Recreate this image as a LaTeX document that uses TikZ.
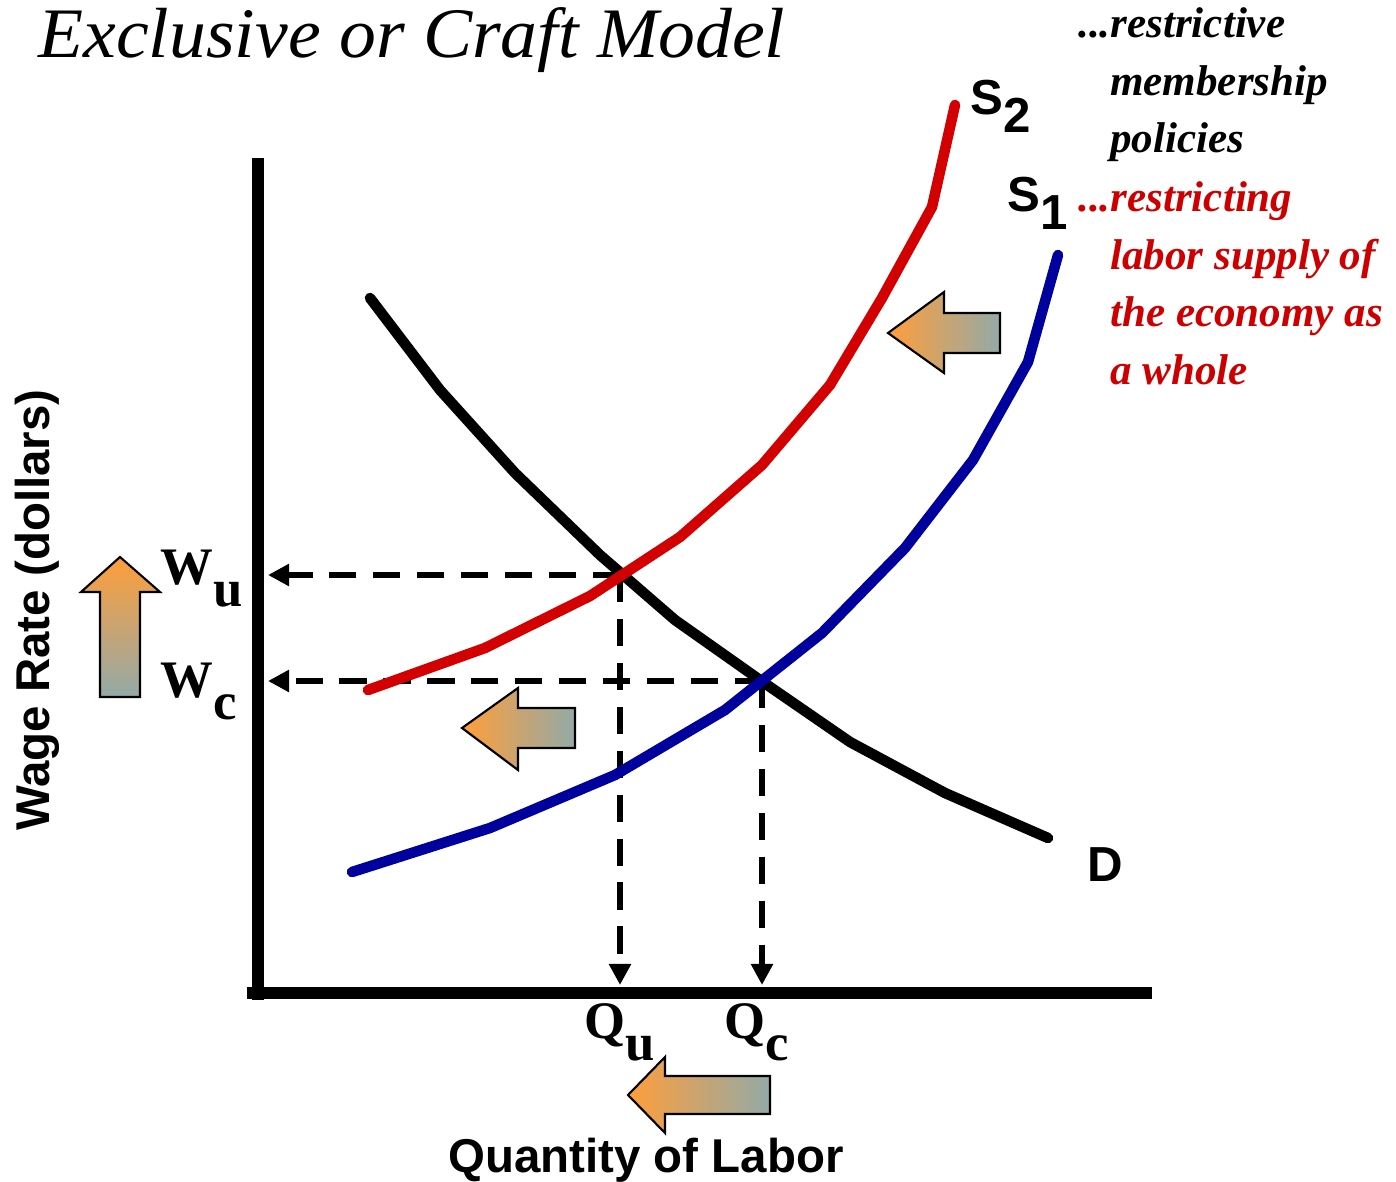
\documentclass[tikz,border=0pt]{standalone}
\usepackage{fontspec}
\setmainfont{Liberation Serif}
\setsansfont{Liberation Sans}
\usetikzlibrary{arrows.meta}
\definecolor{curvered}{HTML}{D20000}
\definecolor{curveblue}{HTML}{00009C}
\definecolor{arrorange}{HTML}{FF9E3A}
\definecolor{arrgray}{HTML}{93AAA8}
\definecolor{txtred}{HTML}{CC0000}
\tikzset{
  axisline/.style={line width=6.8pt},
  curve/.style={line width=6pt, line cap=round, line join=round},
  guide/.style={line width=3.1pt, dash pattern=on 15.5pt off 9.5pt, -{Triangle[length=12pt,width=12pt]}},
  blockarrow/.style={draw=black, line width=1.2pt, line join=miter},
  curvelabel/.style={font=\sffamily\bfseries\fontsize{28}{30}\selectfont, inner sep=0pt},
  axislabel/.style={font=\sffamily\bfseries\fontsize{27}{30}\selectfont, inner sep=0pt},
  varlabel/.style={font=\bfseries\fontsize{30}{32}\selectfont, inner sep=0pt, anchor=base west},
  note/.style={font=\bfseries\itshape\fontsize{24.5}{26}\selectfont, inner sep=0pt, anchor=base west},
}
\begin{document}
\begin{tikzpicture}[x=0.02cm,y=-0.02cm]
\useasboundingbox (0,0) rectangle (1396,1182);
% title
\node[inner sep=0pt, anchor=base west] (title) at (38,58) {\resizebox{14.94cm}{1.0cm}{\itshape Exclusive or Craft Model}};
% notes
\node[note] (n1) at (1078,38) {...restrictive};
\node[note] (n2) at (1110,96) {membership};
\node[note] (n3) at (1110,153) {policies};
\node[note, text=txtred] (n4) at (1078,212) {...restricting};
\node[note, text=txtred] (n5) at (1110,270) {labor supply of};
\node[note, text=txtred] (n6) at (1110,327) {the economy as};
\node[note, text=txtred] (n7) at (1110,384) {a whole};
% axes
\coordinate (origin) at (258,993);
\draw[axisline] (258,158) -- (258,1000);
\draw[axisline] (247,993) -- (1152,993);
% equilibrium points
\coordinate (eu) at (620,575);
\coordinate (ec) at (762,681);
\coordinate (wuaxis) at (268,575);
\coordinate (wcaxis) at (268,681);
\coordinate (quaxis) at (620,985);
\coordinate (qcaxis) at (762,985);
\draw[guide] (eu) -- (wuaxis);
\draw[guide] (ec) -- (wcaxis);
\draw[guide] (eu) -- (quaxis);
\draw[guide] (ec) -- (qcaxis);
% curves
\draw[curve, black] (370,298) -- (440,390) -- (515,473) -- (600,555) -- (675,620) -- (760,680) -- (850,742) -- (945,793) -- (1048,838);
\draw[curve, curvered] (368,690) -- (485,648) -- (590,596) -- (680,537) -- (762,465) -- (830,385) -- (882,298) -- (932,207) -- (955,105);
\draw[curve, curveblue] (352,872) -- (490,828) -- (615,775) -- (725,710) -- (822,633) -- (905,548) -- (973,460) -- (1028,362) -- (1058,255);
% curve labels
\node[curvelabel, anchor=base west] (s2) at (970,115) {S\raisebox{-0.35em}{2}};
\node[curvelabel, anchor=base west] (s1) at (1007,212) {S\raisebox{-0.35em}{1}};
\node[curvelabel, anchor=base west] (d) at (1087,881) {D};
% variable labels
\node[varlabel] (wu) at (160,584) {W\raisebox{-0.42em}{u}};
\node[varlabel] (wc) at (160,697) {W\raisebox{-0.42em}{c}};
\node[varlabel] (qu) at (584,1038) {Q\raisebox{-0.42em}{u}};
\node[varlabel] (qc) at (724,1038) {Q\raisebox{-0.42em}{c}};
% axis labels
\node[axislabel, rotate=90, anchor=base] (ylab) at (50,610) {Wage Rate (dollars)};
\node[axislabel, anchor=base] (xlab) at (646,1172) {Quantity of Labor};
% block arrows
\shade[top color=arrorange, bottom color=arrgray] (100,697) -- (100,592) -- (81,592) -- (120,557) -- (160,592) -- (140,592) -- (140,697) -- cycle;
\draw[blockarrow] (100,697) -- (100,592) -- (81,592) -- (120,557) -- (160,592) -- (140,592) -- (140,697) -- cycle;
\shade[left color=arrorange, right color=arrgray] (462,728) -- (518,688) -- (518,708) -- (575,708) -- (575,748) -- (518,748) -- (518,770) -- cycle;
\draw[blockarrow] (462,728) -- (518,688) -- (518,708) -- (575,708) -- (575,748) -- (518,748) -- (518,770) -- cycle;
\shade[left color=arrorange, right color=arrgray] (888,333) -- (944,292) -- (944,313) -- (1000,313) -- (1000,353) -- (944,353) -- (944,373) -- cycle;
\draw[blockarrow] (888,333) -- (944,292) -- (944,313) -- (1000,313) -- (1000,353) -- (944,353) -- (944,373) -- cycle;
\shade[left color=arrorange, right color=arrgray] (628,1095) -- (665,1057) -- (665,1076) -- (770,1076) -- (770,1114) -- (665,1114) -- (665,1133) -- cycle;
\draw[blockarrow] (628,1095) -- (665,1057) -- (665,1076) -- (770,1076) -- (770,1114) -- (665,1114) -- (665,1133) -- cycle;
\end{tikzpicture}
\end{document}
